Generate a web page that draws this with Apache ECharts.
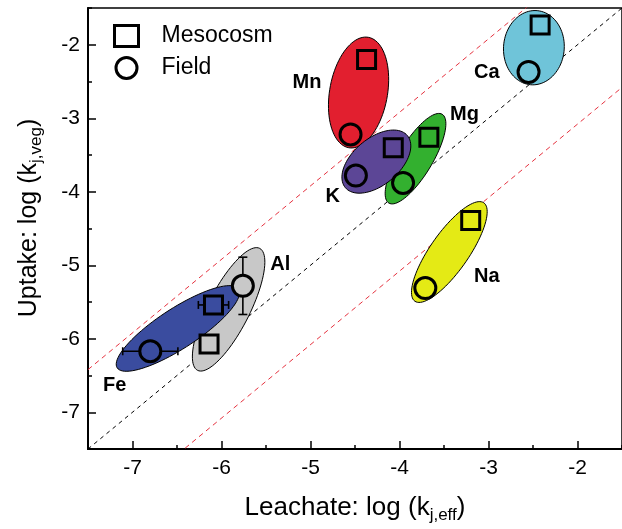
<!DOCTYPE html>
<html>
<head>
<meta charset="utf-8">
<script src="https://cdn.jsdelivr.net/npm/echarts@6/dist/echarts.min.js"></script>
<style>
  html, body { margin: 0; padding: 0; background: #fff; }
  #chart { width: 622px; height: 529px; }
</style>
</head>
<body>
<div id="chart"></div>
<script>
// elements, in the order the ellipses are stacked
var elements = ['Ca', 'Mn', 'Mg', 'K', 'Na', 'Al', 'Fe'];

// mesocosm (squares) and field (circles), log values
var mesoX  = [-2.42, -4.37, -3.67, -4.07, -3.20, -6.14, -6.09];
var mesoY  = [-1.73, -2.20, -3.26, -3.40, -4.39, -6.07, -5.54];
var fieldX = [-2.55, -4.55, -3.96, -4.49, -3.71, -5.76, -6.80];
var fieldY = [-2.37, -3.22, -3.88, -3.78, -5.31, -5.28, -6.17];

// error bars (half widths)
var mesoXErr  = [0, 0, 0, 0, 0, 0, 0.17];
var fieldXErr = [0, 0, 0, 0, 0, 0, 0.31];
var fieldYErr = [0, 0, 0, 0, 0, 0.39, 0];

// ellipses: centre, semi axes (x units) and tilt (deg)
var ellX     = [-2.49, -4.46, -3.82, -4.26, -3.44, -5.92, -6.49];
var ellY     = [-2.04, -2.65, -3.55, -3.59, -4.82, -5.60, -5.86];
var ellMajor = [0.418, 0.630, 0.582, 0.455, 0.675, 0.769, 0.813];
var ellMinor = [0.341, 0.325, 0.190, 0.262, 0.215, 0.235, 0.225];
var ellAngle = [85, 80, 59, 40, 55, 63, 33];

// element name positions
var labelX = [-3.02, -5.04, -3.27, -4.75, -3.02, -5.34, -7.20];
var labelY = [-2.38, -2.52, -2.95, -4.07, -5.15, -4.99, -6.63];

// 1:1 line and the +/- band
var refOffsets = [0, 1.08, -1.08];
var axisTicks = [-7, -6, -5, -4, -3, -2];

var ellColors = ['#6FC4D9', '#E21F2F', '#33B02F', '#5C4696', '#E4EA15', '#C8C8C8', '#3A4C9F'];
var FONT = 'Arial, "Liberation Sans", sans-serif';

var chart = echarts.init(document.getElementById('chart'));

function ellipseItem(params, api) {
    var c = api.coord([api.value(0), api.value(1)]);
    var unit = api.size([1, 0])[0];
    var a = api.value(2) * unit, b = api.value(3) * unit;
    var th = api.value(4) * Math.PI / 180;
    var pts = [];
    for (var k = 0; k < 90; k++) {
        var t = k / 90 * Math.PI * 2;
        var ex = a * Math.cos(t), ey = b * Math.sin(t);
        pts.push([c[0] + ex * Math.cos(th) - ey * Math.sin(th),
                  c[1] - (ex * Math.sin(th) + ey * Math.cos(th))]);
    }
    return {
        type: 'polygon',
        shape: { points: pts },
        style: { fill: ellColors[params.dataIndex], stroke: '#000', lineWidth: 1 }
    };
}

function errItem(params, api) {
    var x = api.value(0), y = api.value(1), xe = api.value(2), ye = api.value(3);
    var kids = [];
    var st = { stroke: '#000', lineWidth: 1.6 };
    if (xe > 0) {
        var l = api.coord([x - xe, y]), r = api.coord([x + xe, y]);
        kids.push({ type: 'line', shape: { x1: l[0], y1: l[1], x2: r[0], y2: r[1] }, style: st });
        kids.push({ type: 'line', shape: { x1: l[0], y1: l[1] - 4, x2: l[0], y2: l[1] + 4 }, style: st });
        kids.push({ type: 'line', shape: { x1: r[0], y1: r[1] - 4, x2: r[0], y2: r[1] + 4 }, style: st });
    }
    if (ye > 0) {
        var t = api.coord([x, y + ye]), bt = api.coord([x, y - ye]);
        kids.push({ type: 'line', shape: { x1: t[0], y1: t[1], x2: bt[0], y2: bt[1] }, style: st });
        kids.push({ type: 'line', shape: { x1: t[0] - 4.5, y1: t[1], x2: t[0] + 4.5, y2: t[1] }, style: st });
        kids.push({ type: 'line', shape: { x1: bt[0] - 4.5, y1: bt[1], x2: bt[0] + 4.5, y2: bt[1] }, style: st });
    }
    return { type: 'group', children: kids };
}

var ellData = elements.map(function (e, i) {
    return [ellX[i], ellY[i], ellMajor[i], ellMinor[i], ellAngle[i]];
});
var errData = [];
elements.forEach(function (e, i) {
    errData.push([mesoX[i], mesoY[i], mesoXErr[i], 0]);
    errData.push([fieldX[i], fieldY[i], fieldXErr[i], fieldYErr[i]]);
});

var refSeries = refOffsets.map(function (off) {
    return {
        type: 'line',
        z: 1,
        silent: true,
        symbol: 'none',
        clip: true,
        data: [[-7.5, -7.5 + off], [-1.5, -1.5 + off]],
        lineStyle: { color: off === 0 ? '#000' : '#E5323F', width: 1, type: off === 0 ? [4, 4] : [5, 4] }
    };
});

function mainAxis(pos) {
    return {
        type: 'value', position: pos, min: -7.5, max: -1.5, interval: 0.5,
        splitLine: { show: false },
        axisLine: { show: true, onZero: false, lineStyle: { color: '#000', width: 2 } },
        axisTick: { show: true, inside: true, length: 8, customValues: axisTicks, lineStyle: { color: '#000', width: 1.5 } },
        axisLabel: { customValues: axisTicks, color: '#000', fontSize: 21, fontFamily: FONT, margin: 9 }
    };
}
function minorAxis(pos) {
    return {
        type: 'value', position: pos, min: -7.5, max: -1.5, interval: 0.5,
        splitLine: { show: false },
        axisLine: { show: false, onZero: false },
        axisTick: { show: true, inside: true, length: 4, lineStyle: { color: '#000', width: 1.5 } },
        axisLabel: { show: false }
    };
}

var xMain = mainAxis('bottom');
xMain.name = '{a|Leachate: log (k}{b|j,eff}{a|)}';
xMain.nameLocation = 'middle';
xMain.nameGap = 43;
xMain.nameTextStyle = {
    rich: {
        a: { fontSize: 26, fontFamily: FONT, color: '#000', lineHeight: 32 },
        b: { fontSize: 17, fontFamily: FONT, color: '#000', lineHeight: 14, verticalAlign: 'bottom' }
    }
};
var yMain = mainAxis('left');
yMain.axisLabel.margin = 8;
yMain.name = '{a|Uptake: log (k}{b|j,veg}{a|)}';
yMain.nameLocation = 'middle';
yMain.nameGap = 43;
yMain.nameTextStyle = {
    padding: [0, 0, 0, 21],
    rich: {
        a: { fontSize: 25, fontFamily: FONT, color: '#000', lineHeight: 32 },
        b: { fontSize: 17, fontFamily: FONT, color: '#000', lineHeight: 14, verticalAlign: 'bottom' }
    }
};

var option = {
    animation: false,
    backgroundColor: '#fff',
    grid: { left: 88, top: 8, right: -12, bottom: 79, show: true, borderColor: '#000', borderWidth: 1.5 },
    xAxis: [xMain, minorAxis('bottom')],
    yAxis: [yMain, minorAxis('left')],
    legend: {
        orient: 'vertical', left: 113, top: 24, padding: 0,
        itemWidth: 24, itemHeight: 21, itemGap: 8,
        itemStyle: { color: '#fff', borderColor: '#000', borderWidth: 3 },
        textStyle: { fontSize: 23, fontFamily: FONT, color: '#000', padding: [0, 0, 0, 18], lineHeight: 21 },
        data: [{ name: 'Mesocosm', icon: 'rect' }, { name: 'Field', icon: 'circle' }]
    },
    series: refSeries.concat([
        {
            type: 'custom', z: 2, silent: true,
            renderItem: ellipseItem,
            encode: { x: 0, y: 1 },
            data: ellData
        },
        {
            type: 'custom', z: 3, silent: true,
            renderItem: errItem,
            encode: { x: 0, y: 1 },
            data: errData
        },
        {
            name: 'Mesocosm', type: 'scatter', z: 4, symbol: 'rect', symbolSize: 18,
            itemStyle: { borderColor: '#000', borderWidth: 3, opacity: 1 },
            data: elements.map(function (e, i) {
                return { value: [mesoX[i], mesoY[i]], itemStyle: { color: ellColors[i] } };
            })
        },
        {
            name: 'Field', type: 'scatter', z: 4, symbol: 'circle', symbolSize: 21,
            itemStyle: { borderColor: '#000', borderWidth: 3, opacity: 1 },
            data: elements.map(function (e, i) {
                return { value: [fieldX[i], fieldY[i]], itemStyle: { color: ellColors[i] } };
            })
        },
        {
            type: 'scatter', z: 5, silent: true, symbolSize: 1,
            itemStyle: { color: '#fff', opacity: 0 },
            label: {
                show: true, position: 'inside', formatter: '{@[2]}',
                fontSize: 20, fontWeight: 'bold', fontFamily: FONT, color: '#000',
                opacity: 1, textBorderWidth: 0, textBorderColor: 'transparent'
            },
            data: elements.map(function (e, i) { return [labelX[i], labelY[i], e]; })
        }
    ])
};
chart.setOption(option);
</script>
</body>
</html>
